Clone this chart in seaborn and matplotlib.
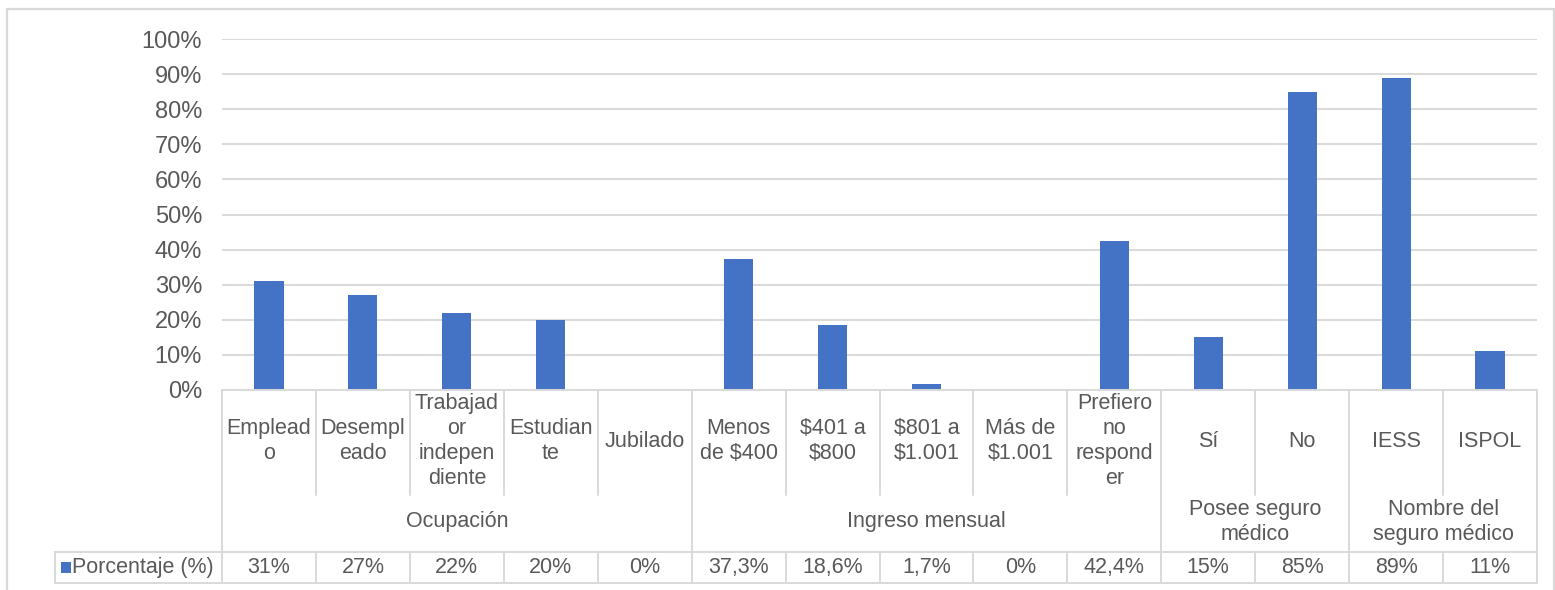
import matplotlib
matplotlib.use("Agg")
import matplotlib.pyplot as plt
from matplotlib.lines import Line2D
from matplotlib.patches import Rectangle
import matplotlib.transforms as mtransforms
import seaborn as sns
import pandas as pd

# Survey results by category
categories = [
    "Emplead\no", "Desempl\neado", "Trabajad\nor\nindepen\ndiente", "Estudian\nte", "Jubilado",
    "Menos\nde $400", "$401 a\n$800", "$801 a\n$1.001", "Más de\n$1.001", "Prefiero\nno\nrespond\ner",
    "Sí", "No", "IESS", "ISPOL",
]
values = [31, 27, 22, 20, 0, 37.3, 18.6, 1.7, 0, 42.4, 15, 85, 89, 11]
groups = ["Ocupación", "Ingreso mensual", "Posee seguro\nmédico", "Nombre del\nseguro médico"]
group_sizes = [5, 5, 2, 2]
series_name = "Porcentaje (%)"
y_ticks = [0, 10, 20, 30, 40, 50, 60, 70, 80, 90, 100]
y_tick_labels = [f"{t}%" for t in y_ticks]

BAR = "#4472C4"
GRID = "#d9d9d9"
TEXT = "#595959"
TABLE_FS = 15.5
LS = 1.25

sns.set_style("white")
plt.rcParams["font.family"] = ["Liberation Sans", "DejaVu Sans"]

W, H = 1555, 590
fig = plt.figure(figsize=(W / 100, H / 100), dpi=100)
fig.patch.set_facecolor("white")


def fy(py):
    return 1 - py / H


def fx(px):
    return px / W


left, right, top, bottom = 222, 1537, 39, 390
ax = fig.add_axes([fx(left), fy(bottom), fx(right) - fx(left), fy(top) - fy(bottom)])

df = pd.DataFrame({"categoria": categories, "valor": values})
sns.barplot(data=df, x="categoria", y="valor", order=categories, color=BAR,
            saturation=1, width=0.31, linewidth=0, ax=ax)

ax.set_xlim(-0.5, len(categories) - 0.5)
ax.set_ylim(0, 100)
ax.set_yticks(y_ticks)
ax.set_yticklabels(y_tick_labels)
ax.set_xlabel("")
ax.set_ylabel("")
ax.grid(axis="y", color=GRID, linewidth=1.4)
ax.grid(axis="x", visible=False)
ax.set_axisbelow(True)
for s in ax.spines.values():
    s.set_visible(False)

ax.tick_params(axis="y", length=0, pad=14.4, labelsize=17, labelcolor=TEXT)
ax.tick_params(axis="x", length=0, pad=37.0, labelsize=TABLE_FS, labelcolor=TEXT)
for lab in ax.get_xticklabels():
    lab.set_verticalalignment("center")
    lab.set_multialignment("center")
    lab.set_linespacing(LS)

# Data-table grid below the plot
trans = mtransforms.blended_transform_factory(ax.transData, fig.transFigure)
line_kw = dict(color=GRID, linewidth=1.4, clip_on=False)

cat_row_bottom, grp_row_bottom, data_row_bottom = 495, 552, 583
x_left_edge = -0.5
x_right_edge = len(categories) - 0.5

boundaries = []
acc = 0
for g in group_sizes:
    acc += g
    boundaries.append(acc)

# horizontal lines
for py in (bottom, grp_row_bottom, data_row_bottom):
    fig.add_artist(Line2D([x_left_edge, x_right_edge], [fy(py), fy(py)], transform=trans, **line_kw))
# extend the data row to include the legend cell
for py in (grp_row_bottom, data_row_bottom):
    fig.add_artist(Line2D([fx(55), fx(left)], [fy(py), fy(py)], transform=fig.transFigure, **line_kw))
fig.add_artist(Line2D([fx(55), fx(55)], [fy(grp_row_bottom), fy(data_row_bottom)],
                      transform=fig.transFigure, **line_kw))

# vertical lines
for xb in (x_left_edge, x_right_edge):
    fig.add_artist(Line2D([xb, xb], [fy(bottom), fy(data_row_bottom)], transform=trans, **line_kw))
for i in range(1, len(categories)):
    xb = i - 0.5
    if i in boundaries:
        fig.add_artist(Line2D([xb, xb], [fy(bottom), fy(data_row_bottom)], transform=trans, **line_kw))
    else:
        fig.add_artist(Line2D([xb, xb], [fy(bottom), fy(cat_row_bottom)], transform=trans, **line_kw))
        fig.add_artist(Line2D([xb, xb], [fy(grp_row_bottom), fy(data_row_bottom)], transform=trans, **line_kw))

# group labels
start = 0
for name, size in zip(groups, group_sizes):
    xc = start + (size - 1) / 2
    fig.text(xc, fy(522), name, transform=trans, ha="center", va="center",
             fontsize=TABLE_FS, color=TEXT, linespacing=LS)
    start += size

# value row
def fmt(v):
    return f"{v:g}".replace(".", ",") + "%"

for i, v in enumerate(values):
    fig.text(i, fy(567.5), fmt(v), transform=trans, ha="center", va="center",
             fontsize=TABLE_FS, color=TEXT)

# legend cell
fig.add_artist(Rectangle((fx(61), fy(573)), fx(71) - fx(61), fy(562) - fy(573),
                         transform=fig.transFigure, facecolor=BAR, edgecolor="none"))
fig.text(fx(72), fy(567.5), series_name, ha="left", va="center", fontsize=TABLE_FS, color=TEXT)

# chart frame
frame_kw = dict(color=GRID, linewidth=1.6, transform=fig.transFigure)
fig.add_artist(Line2D([fx(7), fx(1554)], [fy(9), fy(9)], **frame_kw))
fig.add_artist(Line2D([fx(7), fx(7)], [fy(9), fy(592)], **frame_kw))
fig.add_artist(Line2D([fx(1554), fx(1554)], [fy(9), fy(592)], **frame_kw))

fig.savefig("out.png", dpi=100, facecolor="white")
